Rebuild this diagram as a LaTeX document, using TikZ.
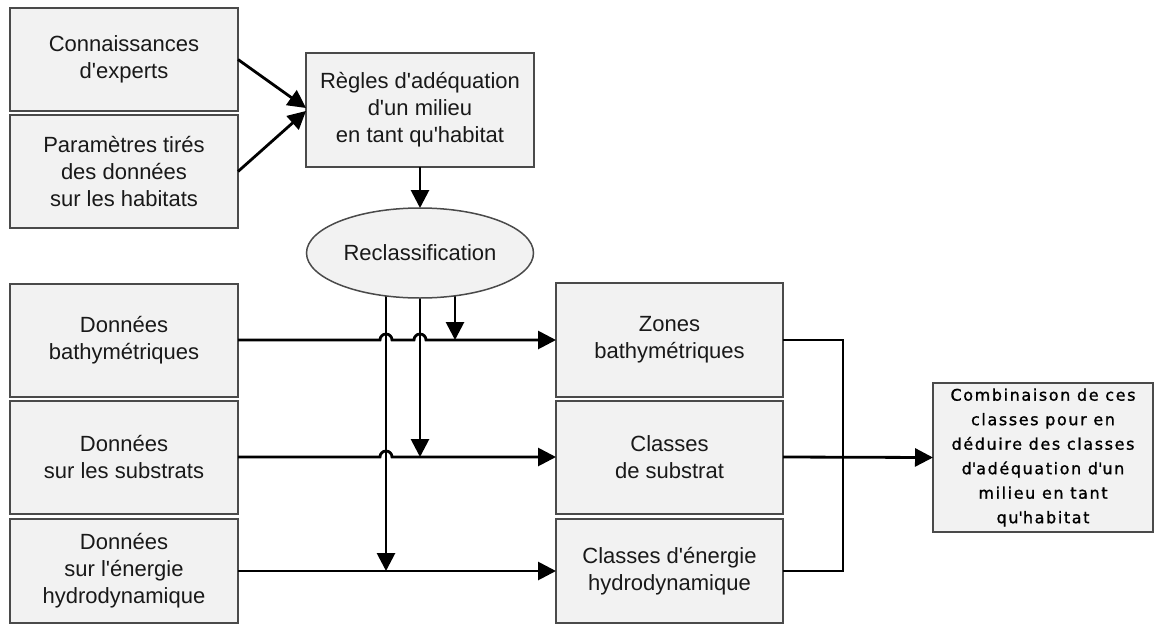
\documentclass[tikz,border=0pt]{standalone}
\usepackage{fontspec}
\setmainfont{Liberation Sans}
\newfontfamily\combfont[LetterSpace=10, FakeBold=1.2]{DejaVu Sans}
\usetikzlibrary{arrows.meta,shapes.geometric,calc}
\pgfdeclarelayer{background}
\pgfsetlayers{background,main}
\newcommand\ap{\textquotesingle}
\definecolor{boxfill}{HTML}{F2F2F2}
\definecolor{boxline}{HTML}{4A4A4A}
\tikzset{
  box/.style={draw=boxline, line width=2pt, fill=boxfill, rectangle, inner sep=0pt, outer sep=0pt,
    align=center, text=black!90, font=\fontsize{22}{27}\selectfont},
  oval/.style={draw=boxline, line width=1.5pt, fill=boxfill, ellipse, inner sep=0pt, outer sep=0pt,
    minimum width=227pt, minimum height=90pt, text=black!90, font=\fontsize{22}{27}\selectfont},
  conn/.style={line width=2.8pt, black},
  arr/.style={conn, -{Triangle[length=18pt, width=18pt]}},
}
\begin{document}
\begin{tikzpicture}[x=1pt, y=-1pt]
\begin{pgfonlayer}{background}
\fill[white] (0,0) rectangle (1155,624);
\end{pgfonlayer}
\useasboundingbox (0,0) rectangle (1155,624);
% top part
\node[box, minimum width=228pt, minimum height=103pt] (conn) at (124,59.5) {Connaissances\\d\ap experts};
\node[box, minimum width=228pt, minimum height=113pt] (param) at (124,171.5) {Paramètres tirés\\des données\\sur les habitats};
\node[box, minimum width=228pt, minimum height=114pt] (regles) at (420,110) {Règles d\ap adéquation\\d\ap un milieu\\en tant qu\ap habitat};
\node[oval] (recl) at (420,253) {Reclassification};
% left column
\node[box, minimum width=228pt, minimum height=113pt] (dbath) at (124,340) {Données\\bathymétriques};
\node[box, minimum width=228pt, minimum height=113pt] (dsub) at (124,457) {Données\\sur les substrats};
\node[box, minimum width=228pt, minimum height=104pt] (dene) at (124,571) {Données\\sur l\ap énergie\\hydrodynamique};
% middle column
\node[box, minimum width=227pt, minimum height=114pt] (zones) at (669.5,340) {Zones\\bathymétriques};
\node[box, minimum width=227pt, minimum height=113pt] (csub) at (669.5,457) {Classes\\de substrat};
\node[box, minimum width=227pt, minimum height=104pt] (cene) at (669.5,571) {Classes d\ap énergie\\hydrodynamique};
% right
\node[box, minimum width=220pt, minimum height=149pt, text=black,
  font=\combfont\fontsize{16}{24.5}\selectfont] (comb) at (1043,457.5)
  {Combinaison de ces\\classes pour en\\déduire des classes\\d\ap adéquation d\ap un\\milieu en tant\\qu\ap habitat};
% connectors top
\draw[arr] (conn.east) -- ($(regles.west)+(0,-2)$);
\draw[arr] (param.east) -- ($(regles.west)+(0,1)$);
\draw[arr] (regles.south) -- (recl.north);
% vertical connectors from the ellipse (behind it)
\coordinate (t1) at (455,340);
\coordinate (t2) at (420,457);
\coordinate (t3) at (386,571);
\begin{pgfonlayer}{background}
\draw[arr] (recl.center -| t1) -- (t1);
\draw[arr] (recl.center -| t2) -- (t2);
\draw[arr] (recl.center -| t3) -- (t3);
\end{pgfonlayer}
% horizontal connectors with hops
\draw[arr] (dbath.east) -- (380,340) arc[start angle=180, end angle=0, radius=6pt]
  -- (414,340) arc[start angle=180, end angle=0, radius=6pt] -- (zones.west);
\draw[arr] (dsub.east) -- (380,457) arc[start angle=180, end angle=0, radius=6pt] -- (csub.west);
\draw[arr] (dene.east) -- (cene.west);
% right bracket
\coordinate (b1) at (843,340);
\coordinate (b3) at (843,571);
\draw[conn] (zones.east) -- (b1) -- (b3) -- (cene.east);
\draw[arr] (csub.east) -- (comb.west);
\end{tikzpicture}
\end{document}
